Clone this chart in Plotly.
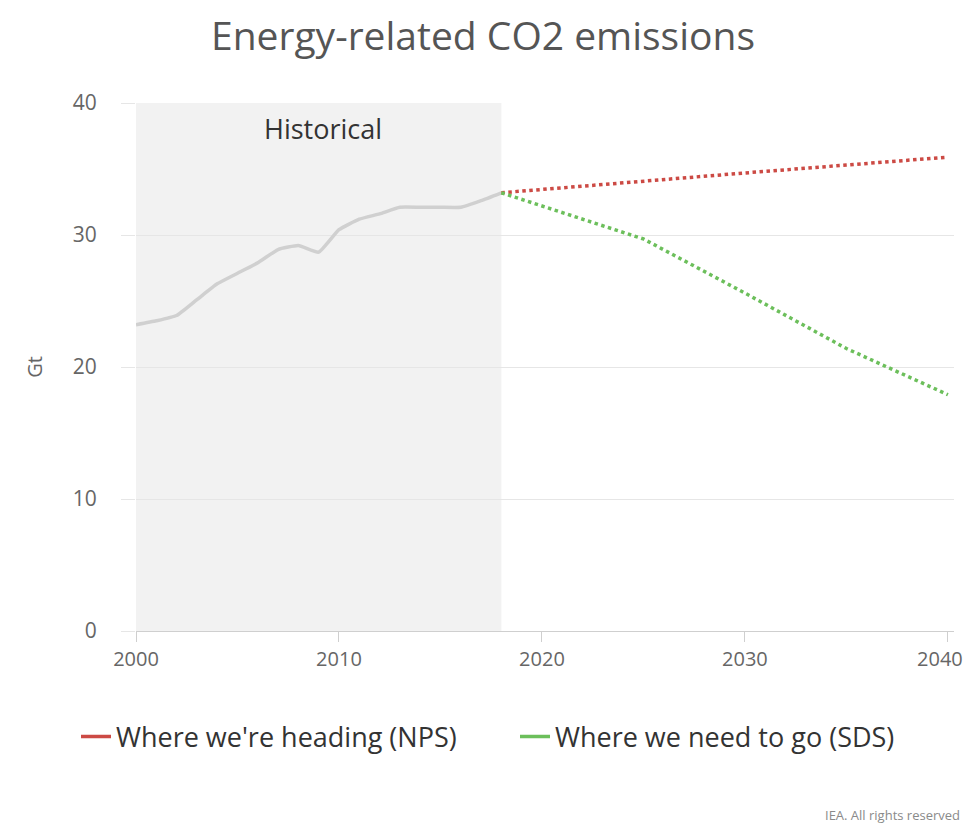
import plotly.graph_objects as go

# Historical emissions (Gt CO2)
hist_years = list(range(2000, 2019))
hist_values = [23.2, 23.5, 23.9, 25.1, 26.3, 27.1, 27.9, 28.9, 29.2, 28.7,
               30.4, 31.2, 31.6, 32.1, 32.1, 32.1, 32.1, 32.6, 33.2]

# Scenario projections
proj_years = [2018, 2025, 2030, 2035, 2040]
nps_values = [33.2, 34.1, 34.7, 35.3, 35.9]
sds_values = [33.2, 29.7, 25.6, 21.4, 17.9]

series_names = ["Where we're heading (NPS)", "Where we need to go (SDS)"]
series_colors = ["#cc4a44", "#6cbf5b"]
x_ticks = [2000, 2010, 2020, 2030, 2040]
x_tick_text = ["2000", "2010", "2020", "2030", "2040"]
y_ticks = [0, 10, 20, 30, 40]

FONT = "Open Sans, Noto Sans, sans-serif"
TICK_FONT = dict(family=FONT, size=20, color="#666666")

fig = go.Figure()

fig.add_trace(go.Scatter(
    x=hist_years, y=hist_values, mode="lines",
    line=dict(color="#d0d0d0", width=3.5, shape="spline", smoothing=0.4),
    showlegend=False, hoverinfo="skip",
))
for vals, name, col in zip([nps_values, sds_values], series_names, series_colors):
    fig.add_trace(go.Scatter(
        x=proj_years, y=vals, mode="lines", name=name, legendgroup=name,
        line=dict(color=col, width=3.5, dash="dot"), showlegend=False,
    ))
    # solid swatch for the legend
    fig.add_trace(go.Scatter(
        x=[None], y=[None], mode="lines", name=name, legendgroup=name,
        line=dict(color=col, width=3.5),
    ))

# Shaded historical period
fig.add_shape(type="rect", xref="x", yref="y", x0=2000, x1=2018, y0=0, y1=40,
              fillcolor="#f2f2f2", line=dict(width=0), layer="below")

fig.add_annotation(x=2009.2, y=38.1, xref="x", yref="y", text="Historical",
                   showarrow=False, font=dict(family=FONT, size=27, color="#333333"))

fig.add_annotation(x=(962 - 136) / 818, y=(631 - 815) / 528, xref="paper", yref="paper",
                   text="IEA. All rights reserved", showarrow=False,
                   xanchor="right", yanchor="middle",
                   font=dict(family=FONT, size=13, color="#8a8a8a"))

x_range = [2000, 2040.3]

fig.update_layout(
    width=964, height=824,
    margin=dict(l=136, r=10, t=103, b=193),
    paper_bgcolor="white", plot_bgcolor="white",
    font=dict(family=FONT, color="#555555"),
    title=dict(text="Energy-related CO2 emissions", x=483 / 964, xanchor="center",
               y=1 - 36 / 824, yanchor="middle",
               font=dict(family=FONT, size=39, color="#555555")),
    legend=dict(orientation="h", x=(76 - 136) / 818, xref="paper",
                y=(631 - 737) / 528, yref="paper", yanchor="middle", xanchor="left",
                font=dict(family=FONT, size=27, color="#333333"),
                itemwidth=30, entrywidth=394, entrywidthmode="pixels"),
    # main x axis: all ticks, labels for all but the last one
    xaxis=dict(range=x_range, tickvals=x_ticks,
               ticktext=x_tick_text[:-1] + [""],
               showgrid=False,
               showline=True, linecolor="#cfcfcf", linewidth=1,
               ticks="outside", ticklen=10, tickcolor="#cfcfcf",
               automargin=False, tickfont=TICK_FONT,
               zeroline=False, fixedrange=True),
    # overlay axis carrying only the last label, nudged inside the chart edge
    xaxis2=dict(range=x_range, overlaying="x", side="bottom", anchor="y",
                tickvals=x_ticks[-1:], ticktext=x_tick_text[-1:],
                showgrid=False, showline=False, ticks="outside", ticklen=10,
                tickcolor="rgba(0,0,0,0)", ticklabelshift=-8,
                ticklabeloverflow="allow", automargin=False, tickfont=TICK_FONT,
                zeroline=False, fixedrange=True),
    yaxis=dict(range=[0, 40], tickvals=y_ticks, showgrid=True, gridcolor="#e6e6e6",
               zeroline=False, ticks="outside", ticklen=14, tickcolor="#e6e6e6",
               ticklabelstandoff=20, automargin=False,
               tickfont=dict(family=FONT, size=21, color="#666666"),
               title=dict(text="Gt", font=dict(family=FONT, size=20, color="#666666"),
                          standoff=24),
               fixedrange=True),
)

# an invisible trace keeps the overlay axis active
fig.add_trace(go.Scatter(x=[None], y=[None], xaxis="x2", yaxis="y",
                         showlegend=False, hoverinfo="skip"))

fig.write_html("out.html")
